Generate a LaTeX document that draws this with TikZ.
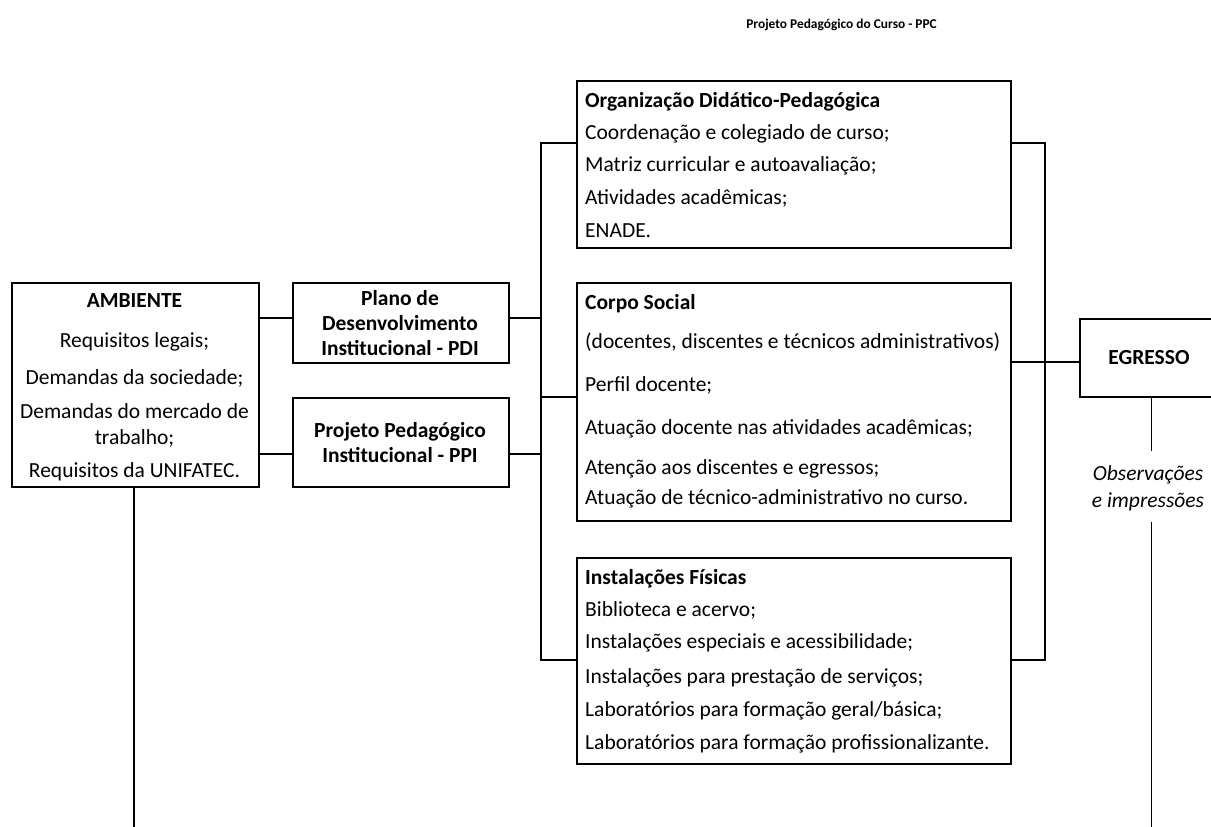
\documentclass[tikz,border=0pt]{standalone}
\usepackage{fontspec}
\setmainfont{Carlito}
\usetikzlibrary{calc}
\begin{document}
\begin{tikzpicture}[x=1pt,y=-1pt,
  box/.style={draw, line width=1.7pt, inner sep=0pt, anchor=north west},
  conn/.style={line width=1.7pt},
  lt/.style={font=\fontsize{21.5}{25.5}\selectfont, inner sep=0pt, anchor=base west},
  lbt/.style={font=\fontsize{21.5}{25.5}\selectfont\bfseries, inner sep=0pt, anchor=base west},
  ct/.style={font=\fontsize{21.5}{25.5}\selectfont, inner sep=0pt, anchor=base},
  cbt/.style={font=\fontsize{21.5}{25.5}\selectfont\bfseries, inner sep=0pt, anchor=base},
  cit/.style={font=\fontsize{21.5}{25.5}\selectfont\itshape, inner sep=0pt, anchor=base},
  ttl/.style={font=\fontsize{13.4}{16}\selectfont\bfseries, inner sep=0pt, anchor=base east}
]
\path[use as bounding box, clip] (0,0) rectangle (1211,827);

% title
\node[ttl] (title) at (937,28) {Projeto Pedagógico do Curso - PPC};

% boxes
\node[box, minimum width=247pt, minimum height=204pt] (amb) at (11,282) {};
\node[box, minimum width=216pt, minimum height=80pt] (pdi) at (292,282) {};
\node[box, minimum width=216pt, minimum height=89pt] (ppi) at (292,397) {};
\node[box, minimum width=434pt, minimum height=167pt] (org) at (576,80) {};
\node[box, minimum width=434pt, minimum height=238pt] (corpo) at (576,282) {};
\node[box, minimum width=434pt, minimum height=206pt] (inst) at (576,557) {};
\node[box, minimum width=143pt, minimum height=78pt] (egr) at (1079,318) {};

% AMBIENTE texts
\node[cbt] (a0) at (134.5,307) {AMBIENTE};
\node[ct] (a1) at (134.5,347) {Requisitos legais;};
\node[ct] (a2) at (134.5,384) {Demandas da sociedade;};
\node[ct] (a3) at (134.5,418) {Demandas do mercado de};
\node[ct] (a4) at (134.5,444) {trabalho;};
\node[ct] (a5) at (134.5,477) {Requisitos da UNIFATEC.};

% PDI / PPI
\node[cbt] (p1) at (400,305) {Plano de};
\node[cbt] (p2) at (400,330) {Desenvolvimento};
\node[cbt] (p3) at (400,355) {Institucional - PDI};
\node[cbt] (q1) at (400,437) {Projeto Pedagógico};
\node[cbt] (q2) at (400,462) {Institucional - PPI};

% Organizacao
\node[lbt] (o0) at (585,107) {Organização Didático-Pedagógica};
\node[lt] (o1) at (585,139) {Coordenação e colegiado de curso;};
\node[lt] (o2) at (585,171) {Matriz curricular e autoavaliação;};
\node[lt] (o3) at (585,204) {Atividades acadêmicas;};
\node[lt] (o4) at (585,237) {ENADE.};

% Corpo Social
\node[lbt] (s0) at (585,309) {Corpo Social};
\node[lt] (s1) at (585,348) {(docentes, discentes e técnicos administrativos)};
\node[lt] (s2) at (585,391) {Perfil docente;};
\node[lt] (s3) at (585,434) {Atuação docente nas atividades acadêmicas;};
\node[lt] (s4) at (585,474) {Atenção aos discentes e egressos;};
\node[lt] (s5) at (585,504) {Atuação de técnico-administrativo no curso.};

% Instalacoes
\node[lbt] (i0) at (585,584) {Instalações Físicas};
\node[lt] (i1) at (585,616) {Biblioteca e acervo;};
\node[lt] (i2) at (585,648) {Instalações especiais e acessibilidade;};
\node[lt] (i3) at (585,683) {Instalações para prestação de serviços;};
\node[lt] (i4) at (585,716) {Laboratórios para formação geral/básica;};
\node[lt] (i5) at (585,749) {Laboratórios para formação profissionalizante.};

% EGRESSO
\node[cbt] (e0) at (1149,364) {EGRESSO};
\node[cit] (ob1) at (1148,480) {Observações};
\node[cit] (ob2) at (1148,507) {e impressões};

% coordinates
\coordinate (ypdi) at ($(pdi.north west)+(0,36)$);
\coordinate (yppi) at ($(ppi.south west)+(0,-34)$);
\coordinate (lb1) at ($(org.north west)+(-35,63)$);
\coordinate (lb2) at ($(inst.north west)+(-35,103)$);
\coordinate (rb1) at ($(org.north east)+(33,63)$);
\coordinate (rb2) at ($(inst.north east)+(33,103)$);
\coordinate (cl) at ($(corpo.north west)+(0,115)$);
\coordinate (cr) at ($(corpo.north east)+(0,80)$);
\coordinate (eg1) at ($(egr.south)+(0,53)$);
\coordinate (eg2) at ($(egr.south)+(0,124)$);
\coordinate (eg3) at ($(egr.south)+(0,431)$);
\coordinate (ab1) at ($(amb.south)+(-1.5,0)$);
\coordinate (ab2) at ($(amb.south)+(-1.5,341)$);

% connectors
\draw[conn] (amb.east |- ypdi) -- (pdi.west |- ypdi);
\draw[conn] (amb.east |- yppi) -- (ppi.west |- yppi);
\draw[conn] (pdi.east |- ypdi) -- (lb1 |- ypdi);
\draw[conn] (ppi.east |- yppi) -- (lb1 |- yppi);
\draw[conn] (org.west |- lb1) -- (lb1) -- (lb2) -- (inst.west |- lb2);
\draw[conn] (lb1 |- cl) -- (cl);
\draw[conn] (org.east |- rb1) -- (rb1) -- (rb2) -- (inst.east |- rb2);
\draw[conn] (cr) -- (egr.west |- cr);
\draw[conn] (egr.south) -- (eg1);
\draw[conn] (eg2) -- (eg3);
\draw[conn] (ab1) -- (ab2);
\end{tikzpicture}
\end{document}
